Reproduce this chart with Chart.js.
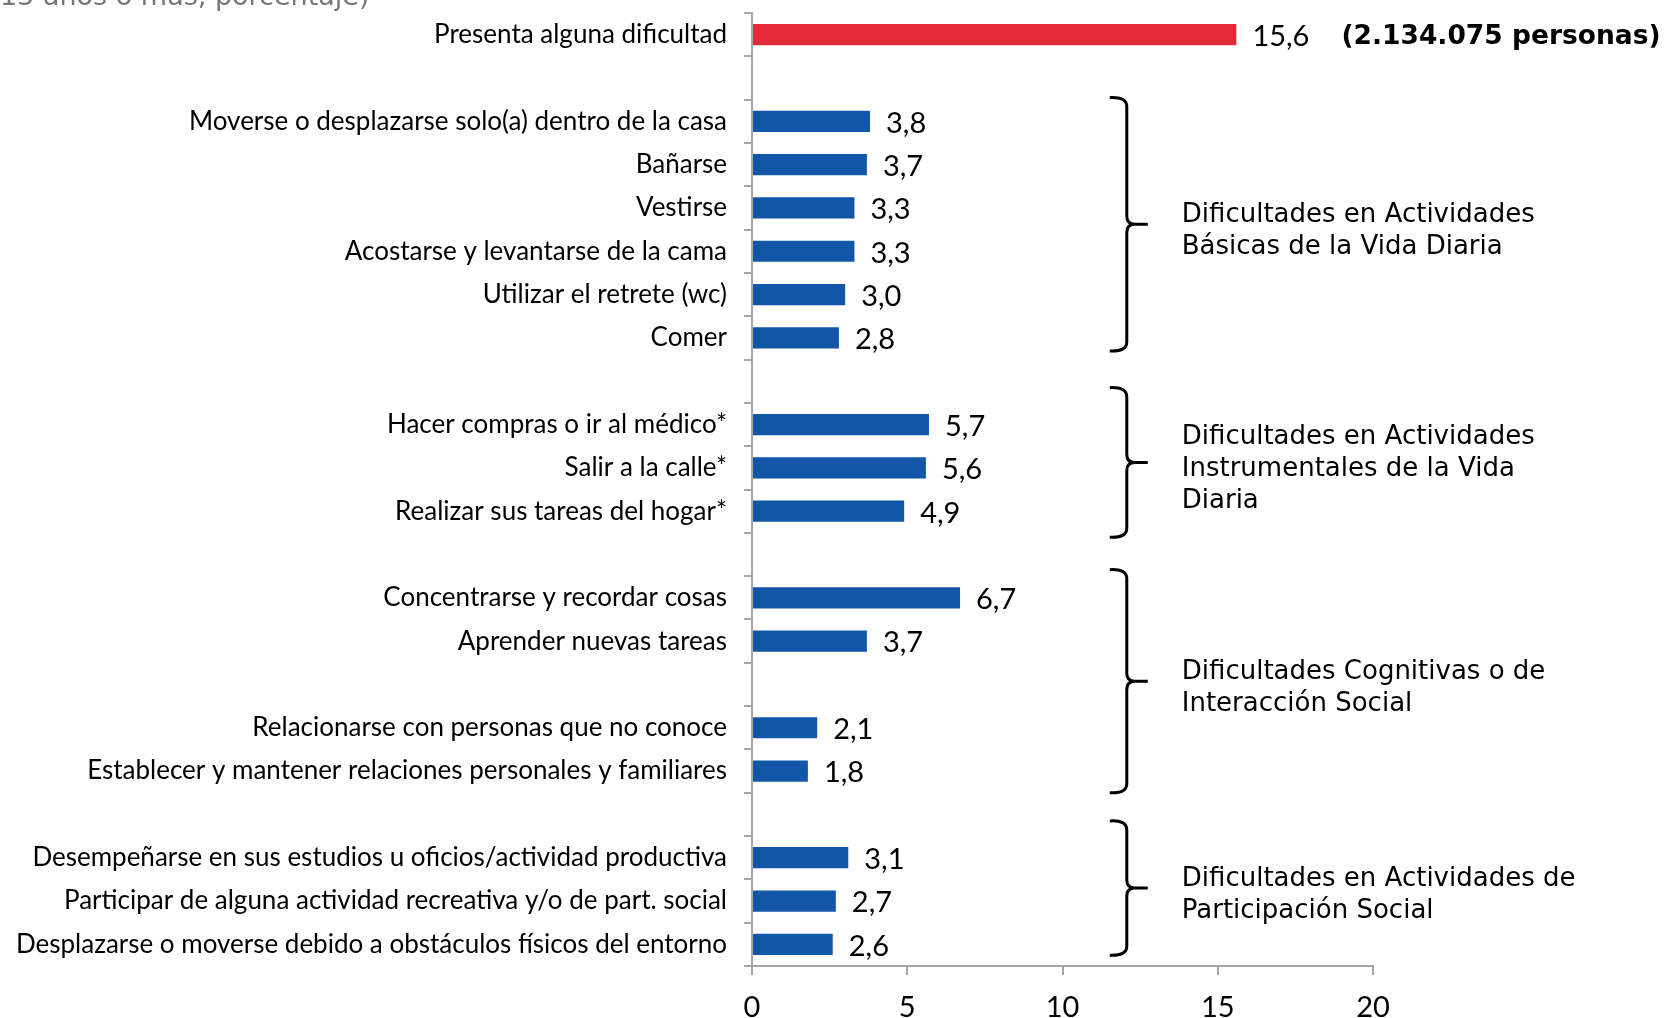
<!DOCTYPE html>
<html>
<head>
<meta charset="utf-8">
<script src="https://cdn.jsdelivr.net/npm/chart.js@4/dist/chart.umd.min.js"></script>
<style>
  html, body { margin: 0; padding: 0; background: #fff; }
</style>
</head>
<body>
<canvas id="chart" width="1666" height="1018"></canvas>
<script>
// data ('' = empty spacer row)
const categories = [
	'Presenta alguna dificultad',
	'',
	'Moverse o desplazarse solo(a) dentro de la casa',
	'Bañarse',
	'Vestirse',
	'Acostarse y levantarse de la cama',
	'Utilizar el retrete (wc)',
	'Comer',
	'',
	'Hacer compras o ir al médico*',
	'Salir a la calle*',
	'Realizar sus tareas del hogar*',
	'',
	'Concentrarse y recordar cosas',
	'Aprender nuevas tareas',
	'',
	'Relacionarse con personas que no conoce',
	'Establecer y mantener relaciones personales y familiares',
	'',
	'Desempeñarse en sus estudios u oficios/actividad productiva',
	'Participar de alguna actividad recreativa y/o de part. social',
	'Desplazarse o moverse debido a obstáculos físicos del entorno'
];
const values = [15.6, null, 3.8, 3.7, 3.3, 3.3, 3.0, 2.8, null, 5.7, 5.6, 4.9, null, 6.7, 3.7, null, 2.1, 1.8, null, 3.1, 2.7, 2.6];
const xTicks = [0, 5, 10, 15, 20];
const totalNote = '(2.134.075 personas)';
const titleTail = '15 años o más, porcentaje)';

// bracket groups: label lines and the row span (in category index units)
const groupLabels = [
	['Dificultades en Actividades', 'Básicas de la Vida Diaria'],
	['Dificultades en Actividades', 'Instrumentales de la Vida', 'Diaria'],
	['Dificultades Cognitivas o de', 'Interacción Social'],
	['Dificultades en Actividades de', 'Participación Social']
];
const groupTop = [1.45, 8.15, 12.35, 18.15];
const groupBottom = [7.3, 11.6, 17.5, 21.25];

const RED = '#E52A37';
const BLUE = '#1156A7';
const AXIS = '#A6A6A6';

const barColors = values.map((v, i) => i === 0 ? RED : BLUE);

function fmt(v) {
	return v.toFixed(1).replace('.', ',');
}

const extras = {
	id: 'extras',
	afterDatasetsDraw(chart) {
		const ctx = chart.ctx;
		const meta = chart.getDatasetMeta(0);
		const xs = chart.scales.x;
		const ys = chart.scales.y;

		ctx.save();
		// cut-off title line at the very top
		ctx.fillStyle = '#777777';
		ctx.font = '27px "DejaVu Sans"';
		ctx.textAlign = 'left';
		ctx.textBaseline = 'alphabetic';
		ctx.fillText(titleTail, 0, 5);

		// value labels
		ctx.fillStyle = '#000';
		ctx.textBaseline = 'middle';
		meta.data.forEach((bar, i) => {
			const v = values[i];
			if (v === null) return;
			const s = fmt(v);
			ctx.font = '29px Lato';
			ctx.fillText(s, bar.x + 16, bar.y + 2);
			if (i === 0) {
				const w = ctx.measureText(s).width;
				ctx.font = 'bold 26.5px "DejaVu Sans"';
				ctx.fillText(totalNote, bar.x + 16 + w + 32, bar.y + 2);
			}
		});

		// curly brackets and group names
		const bx = xs.getPixelForValue(12.07);
		const step = ys.getPixelForValue(1) - ys.getPixelForValue(0);
		const y0 = ys.getPixelForValue(0);
		ctx.strokeStyle = '#000';
		ctx.lineWidth = 3;
		ctx.lineCap = 'butt';
		groupLabels.forEach((lines, g) => {
			const top = y0 + groupTop[g] * step;
			const bot = y0 + groupBottom[g] * step;
			const mid = (top + bot) / 2;
			ctx.beginPath();
			ctx.moveTo(bx - 17, top);
			ctx.quadraticCurveTo(bx, top - 1, bx, top + 9);
			ctx.lineTo(bx, mid - 8);
			ctx.quadraticCurveTo(bx, mid, bx + 8, mid);
			ctx.lineTo(bx + 21, mid);
			ctx.moveTo(bx + 8, mid);
			ctx.quadraticCurveTo(bx, mid, bx, mid + 8);
			ctx.lineTo(bx, bot - 9);
			ctx.quadraticCurveTo(bx, bot + 1, bx - 17, bot);
			ctx.stroke();

			ctx.font = '26px "DejaVu Sans"';
			ctx.textBaseline = 'middle';
			const lh = 32;
			const start = mid + 7 - (lines.length - 1) * lh / 2;
			lines.forEach((t, k) => {
				ctx.fillText(t, bx + 55, start + k * lh);
			});
		});
		ctx.restore();
	}
};

const ctx = document.getElementById('chart').getContext('2d');
const chart = new Chart(ctx, {
	type: 'bar',
	data: {
		labels: categories,
		datasets: [{
			data: values,
			backgroundColor: barColors,
			borderWidth: 0,
			barPercentage: 0.49,
			categoryPercentage: 1
		}]
	},
	options: {
		indexAxis: 'y',
		responsive: false,
		devicePixelRatio: 1,
		animation: false,
		layout: { padding: { top: 13, right: 293, left: 0, bottom: 0 } },
		plugins: {
			legend: { display: false },
			tooltip: { enabled: false }
		},
		scales: {
			x: {
				min: 0,
				max: 20,
				afterBuildTicks(scale) {
					scale.ticks = xTicks.map(v => ({ value: v }));
				},
				afterFit(scale) { scale.height = 52; },
				grid: {
					drawOnChartArea: false,
					drawTicks: true,
					tickLength: 9,
					color: AXIS,
					lineWidth: 2
				},
				border: { color: AXIS, width: 2 },
				ticks: {
					color: '#000',
					padding: 15,
					font: { family: 'Lato', size: 29 }
				}
			},
			y: {
				afterFit(scale) {
					scale.width = 752;
					scale.paddingTop = 0;
					scale.paddingBottom = 0;
				},
				grid: {
					offset: true,
					drawOnChartArea: false,
					drawTicks: true,
					tickLength: 8,
					color: AXIS,
					lineWidth: 2
				},
				border: { color: AXIS, width: 2 },
				ticks: {
					color: '#000',
					padding: 17,
					autoSkip: false,
					font: { family: 'Lato', size: 26 }
				}
			}
		}
	},
	plugins: [extras]
});
</script>
</body>
</html>
